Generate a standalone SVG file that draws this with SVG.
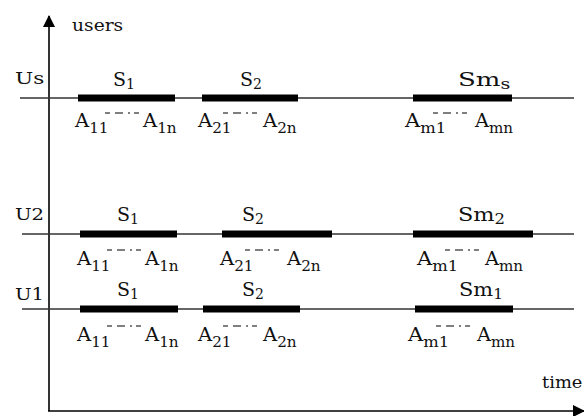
<svg xmlns="http://www.w3.org/2000/svg" width="584" height="416" viewBox="0 0 584 416">
  <style>
    .axis { stroke: #000; stroke-width: 1.6; fill: none; }
    .track { stroke: #333; stroke-width: 1.4; }
    .bar { fill: #000; }
    .dots { stroke: #555; stroke-width: 1.3; stroke-dasharray: 5 5 8 5 2 4; }
  </style>
  <defs>
    <marker id="arrow" viewBox="0 0 12 12" refX="11" refY="6" markerWidth="12" markerHeight="12" markerUnits="userSpaceOnUse" orient="auto">
      <path d="M0,0 L12,6 L0,12 Z" fill="#000"/>
    </marker>
  </defs>

  <rect width="584" height="416" fill="#fff"/>

  <!-- all labels: slab-ish serif, drawn slightly widened -->
  <g font-family="'DejaVu Serif', 'Liberation Serif', serif" fill="#111">

  <!-- axes -->
  <g id="axes">
    <line class="axis" x1="49" y1="411" x2="49" y2="16" marker-end="url(#arrow)"/>
    <line class="axis" x1="48" y1="411" x2="584" y2="411" marker-end="url(#arrow)"/>
    <text font-size="17" transform="translate(72 31) scale(1.1 1)">users</text>
    <text font-size="17" transform="translate(542 388) scale(1.05 1)">time</text>
  </g>

  <!-- user Us -->
  <g id="row-us">
    <line class="track" x1="20" y1="98" x2="574" y2="98"/>
    <text font-size="17" transform="translate(15 84) scale(1.27 1)">Us</text>
    <rect class="bar" x="78" y="94.5" width="97" height="7"/>
    <rect class="bar" x="202" y="94.5" width="96" height="7"/>
    <rect class="bar" x="413" y="94.5" width="99" height="7"/>
    <g font-size="19">
      <text transform="translate(113 86)">S<tspan font-size="14" dy="3">1</tspan></text>
      <text transform="translate(240 86)">S<tspan font-size="14" dy="3">2</tspan></text>
      <text transform="translate(458 86) scale(1.37 1)">Sm<tspan font-size="14" dy="3">s</tspan></text>
    </g>
    <g font-size="18">
      <text transform="translate(75 127) scale(1.09 1)">A<tspan font-size="14" dy="6">11</tspan></text>
      <text transform="translate(143 127) scale(1.09 1)">A<tspan font-size="14" dy="6">1n</tspan></text>
      <text transform="translate(198 127) scale(1.09 1)">A<tspan font-size="14" dy="6">21</tspan></text>
      <text transform="translate(263 127) scale(1.09 1)">A<tspan font-size="14" dy="6">2n</tspan></text>
      <text transform="translate(405 127) scale(1.17 1)">A<tspan font-size="14" dy="6">m1</tspan></text>
      <text transform="translate(475 127) scale(1.08 1)">A<tspan font-size="14" dy="6">mn</tspan></text>
    </g>
    <line class="dots" x1="105" y1="113" x2="139" y2="113"/>
    <line class="dots" x1="223" y1="113" x2="258" y2="113"/>
    <line class="dots" x1="433" y1="113" x2="470" y2="113"/>
  </g>

  <!-- user U2 -->
  <g id="row-u2">
    <line class="track" x1="22" y1="234" x2="574" y2="234"/>
    <text font-size="17" transform="translate(15 220) scale(1.16 1)">U2</text>
    <rect class="bar" x="80" y="230.5" width="97" height="7"/>
    <rect class="bar" x="222" y="230.5" width="110" height="7"/>
    <rect class="bar" x="413" y="230.5" width="120" height="7"/>
    <g font-size="19">
      <text transform="translate(117 221)">S<tspan font-size="14" dy="3">1</tspan></text>
      <text transform="translate(242 221)">S<tspan font-size="14" dy="3">2</tspan></text>
      <text transform="translate(458 221) scale(1.18 1)">Sm<tspan font-size="14" dy="3">2</tspan></text>
    </g>
    <g font-size="18">
      <text transform="translate(77 265) scale(1.09 1)">A<tspan font-size="14" dy="6">11</tspan></text>
      <text transform="translate(145 265) scale(1.09 1)">A<tspan font-size="14" dy="6">1n</tspan></text>
      <text transform="translate(220 265) scale(1.09 1)">A<tspan font-size="14" dy="6">21</tspan></text>
      <text transform="translate(287 265) scale(1.09 1)">A<tspan font-size="14" dy="6">2n</tspan></text>
      <text transform="translate(417 265) scale(1.17 1)">A<tspan font-size="14" dy="6">m1</tspan></text>
      <text transform="translate(485 265) scale(1.08 1)">A<tspan font-size="14" dy="6">mn</tspan></text>
    </g>
    <line class="dots" x1="107" y1="250" x2="141" y2="250"/>
    <line class="dots" x1="245" y1="250" x2="280" y2="250"/>
    <line class="dots" x1="445" y1="250" x2="480" y2="250"/>
  </g>

  <!-- user U1 -->
  <g id="row-u1">
    <line class="track" x1="22" y1="309" x2="574" y2="309"/>
    <text font-size="17" transform="translate(15 300) scale(1.16 1)">U1</text>
    <rect class="bar" x="80" y="305.5" width="98" height="7"/>
    <rect class="bar" x="203" y="305.5" width="97" height="7"/>
    <rect class="bar" x="415" y="305.5" width="98" height="7"/>
    <g font-size="19">
      <text transform="translate(117 296)">S<tspan font-size="14" dy="3">1</tspan></text>
      <text transform="translate(242 296)">S<tspan font-size="14" dy="3">2</tspan></text>
      <text transform="translate(459 296) scale(1.1 1)">Sm<tspan font-size="14" dy="3">1</tspan></text>
    </g>
    <g font-size="18">
      <text transform="translate(77 341) scale(1.09 1)">A<tspan font-size="14" dy="6">11</tspan></text>
      <text transform="translate(145 341) scale(1.09 1)">A<tspan font-size="14" dy="6">1n</tspan></text>
      <text transform="translate(198 341) scale(1.09 1)">A<tspan font-size="14" dy="6">21</tspan></text>
      <text transform="translate(263 341) scale(1.09 1)">A<tspan font-size="14" dy="6">2n</tspan></text>
      <text transform="translate(408 341) scale(1.17 1)">A<tspan font-size="14" dy="6">m1</tspan></text>
      <text transform="translate(477 341) scale(1.08 1)">A<tspan font-size="14" dy="6">mn</tspan></text>
    </g>
    <line class="dots" x1="107" y1="326" x2="141" y2="326"/>
    <line class="dots" x1="223" y1="326" x2="258" y2="326"/>
    <line class="dots" x1="436" y1="326" x2="472" y2="326"/>
  </g>

  </g>
</svg>
